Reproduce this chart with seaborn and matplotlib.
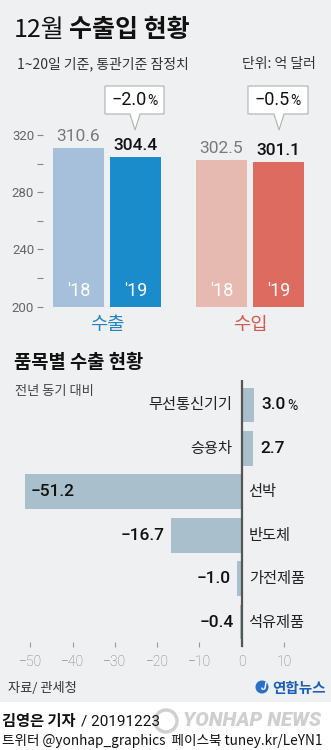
import matplotlib
matplotlib.use("Agg")
import matplotlib.pyplot as plt
from matplotlib.patches import Polygon, Rectangle, Circle
import seaborn as sns
import pandas as pd

# ---------------- data ----------------
trade_groups = ["수출", "수출", "수입", "수입"]
trade_years = ["'18", "'19", "'18", "'19"]
trade_values = [310.6, 304.4, 302.5, 301.1]
trade_changes = ["−2.0", "−0.5"]

items = ["무선통신기기", "승용차", "선박", "반도체", "가전제품", "석유제품"]
item_changes = [3.0, 2.7, -51.2, -16.7, -1.0, -0.4]

y_ticks = [200, 240, 280, 320]
y_minor = [220, 260, 300]
x_ticks = [-50, -40, -30, -20, -10, 0, 10]

# ---------------- style ----------------
sns.set_theme(style="white")
KR = ["Noto Sans CJK KR", "DejaVu Sans"]
NUM = ["Roboto", "Noto Sans CJK KR", "DejaVu Sans"]
plt.rcParams["font.family"] = KR
BG = "#eff0f2"

W, H = 331, 750
fig = plt.figure(figsize=(W / 100, H / 100), dpi=100, facecolor=BG)

def fx(px):
    return px / W

def fy(py):
    return 1 - py / H

# ---------------- top chart ----------------
ax1 = fig.add_axes([fx(43), fy(306.7), fx(320 - 43), (306.7 - 120) / H])
ax1.set_facecolor("none")
df = pd.DataFrame({"group": trade_groups, "year": trade_years, "value": trade_values})
sns.barplot(data=df, x="group", y="value", hue="year", order=["수출", "수입"],
            hue_order=["'18", "'19"], width=0.8, gap=0.105, ax=ax1, legend=False,
            linewidth=0, saturation=1)
colors = {("수출", "'18"): "#a6bfdb", ("수출", "'19"): "#1a8ccb",
          ("수입", "'18"): "#e6bab0", ("수입", "'19"): "#dd6b5f"}
groups_order = ["수출", "수입"]
for hue_lvl, cont in zip(["'18", "'19"], ax1.containers):
    for g, bar in zip(groups_order, cont):
        bar.set_facecolor(colors[(g, hue_lvl)])
        val = bar.get_height()
        xc = bar.get_x() + bar.get_width() / 2
        is19 = hue_lvl == "'19"
        ax1.annotate(f"{val:.1f}", (xc, val), xytext=(0, 3), textcoords="offset points",
                     ha="center", va="bottom", fontsize=12.5,
                     color="#111111" if is19 else "#7a7a7a",
                     fontweight="medium" if is19 else "normal", family=NUM)
        ax1.annotate(hue_lvl, (xc, 200), xytext=(0, 11), textcoords="offset points",
                     ha="center", va="center", fontsize=13, color="white", family=NUM)

group_colors = {"수출": "#2584bf", "수입": "#d35a4f"}
for i, g in enumerate(groups_order):
    ax1.annotate(g, (i, 200), xytext=(0, -13), textcoords="offset points",
                 ha="center", va="center", fontsize=13.5, color=group_colors[g],
                 fontweight="medium", annotation_clip=False)

ax1.set_ylim(200, 200 + (306.7 - 120) / 1.431)
ax1.set_xlim((43 - 107) / 143, (320 - 107) / 143)
ax1.set_yticks(y_ticks)
ax1.set_yticks(y_minor, minor=True)
ax1.set_yticklabels([str(t) for t in y_ticks], family=NUM, fontsize=9.5, color="#666666")
ax1.tick_params(axis="y", which="both", direction="out", length=4.3, width=0.8,
                color="#888888", pad=2, left=True)
ax1.set_xticks([])
ax1.set_xlabel("")
ax1.set_ylabel("")
for s in ax1.spines.values():
    s.set_visible(False)

# ---------------- bottom chart ----------------
ax2 = fig.add_axes([fx(10), fy(647), fx(320 - 10), (647 - 380) / H])
ax2.set_facecolor("none")
sns.barplot(x=item_changes, y=items, orient="h", color="#a9bfcc", saturation=1,
            width=0.8, ax=ax2, linewidth=0)
ax2.axvline(0, color="#555555", lw=1.6, zorder=5)
ax2.set_xlim((10 - 241.7) / 4.23, (320 - 241.7) / 4.23)
ax2.set_ylim(5.576, -0.576)
ax2.set_yticks([])
ax2.set_ylabel("")
ax2.set_xticks(x_ticks)
ax2.set_xticklabels([("−" + str(-t)) if t < 0 else str(t) for t in x_ticks],
                    family=NUM, fontsize=10, color="#777777", fontweight="light")
ax2.tick_params(axis="x", direction="in", length=3.6, width=0.8, color="#999999",
                pad=6, bottom=True)
for s in ax2.spines.values():
    s.set_visible(False)

for i, (name, v) in enumerate(zip(items, item_changes)):
    if v >= 0:
        ax2.annotate(name, (0, i), xytext=(-7, 0), textcoords="offset points",
                     ha="right", va="center", fontsize=11, color="#222222")
        ax2.annotate(f"{v:.1f}", (v, i), xytext=(5, 0), textcoords="offset points",
                     ha="left", va="center", fontsize=12.5, color="#111111",
                     fontweight="medium", family=NUM)
        if i == 0:
            ax2.annotate("%", (v, i), xytext=(23.5, -0.5), textcoords="offset points",
                         ha="left", va="center", fontsize=10, color="#111111", family=NUM)
    else:
        ax2.annotate(name, (0, i), xytext=(5, 0), textcoords="offset points",
                     ha="left", va="center", fontsize=11, color="#222222")
        lab = "−" + f"{-v:.1f}"
        if v < -30:
            ax2.annotate(lab, (v, i), xytext=(4, 0), textcoords="offset points",
                         ha="left", va="center", fontsize=12.5, color="#111111",
                         fontweight="medium", family=NUM)
        else:
            ax2.annotate(lab, (v, i), xytext=(-4.5, 0), textcoords="offset points",
                         ha="right", va="center", fontsize=12.5, color="#111111",
                         fontweight="medium", family=NUM)

# ---------------- overlay (decorations, pixel coords) ----------------
ov = fig.add_axes([0, 0, 1, 1])
ov.set_xlim(0, W)
ov.set_ylim(H, 0)
ov.axis("off")
ov.set_facecolor("none")

# footer strip
ov.add_patch(Rectangle((0, 702), W, 48, facecolor="white", edgecolor="none"))

# title
ov.text(14, 30, "12월", fontsize=18, fontweight="light", va="center", ha="left", color="#111111")
ov.text(69, 30, "수출입 현황", fontsize=18, fontweight="bold", va="center", ha="left", color="#111111")
ov.text(17, 64, "1~20일 기준, 통관기준 잠정치", fontsize=10, va="center", ha="left", color="#333333")
ov.text(316, 64, "단위: 억 달러", fontsize=10, va="center", ha="right", color="#333333")

# callouts
for (x0, x1, tip), ch in zip([(105, 164, 135), (248, 308, 279)], trade_changes):
    poly = Polygon([(x0, 86), (x1, 86), (x1, 114), (tip + 5, 114), (tip, 130),
                    (tip - 5, 114), (x0, 114)], closed=True, facecolor="white",
                   edgecolor="#b0b0b0", lw=0.8)
    ov.add_patch(poly)
    xm = (x0 + x1) / 2
    ov.text(xm + 12, 100, ch, fontsize=13, ha="right", va="center", color="#111111", family=NUM)
    ov.text(xm + 12.5, 101, "%", fontsize=10, ha="left", va="center", color="#111111", family=NUM)

# bottom chart titles
ov.text(14, 362, "품목별 수출 현황", fontsize=13.5, fontweight="bold", va="center", ha="left", color="#111111")
ov.text(15, 392, "전년 동기 대비", fontsize=9.5, va="center", ha="left", color="#444444")

# source & logo
ov.text(8, 689, "자료/ 관세청", fontsize=9.5, va="center", ha="left", color="#333333")
ov.add_patch(Circle((262, 687), 6.5, facecolor="#2a6fc9", edgecolor="none"))
ov.text(263, 687.5, "J", fontsize=7.5, fontweight="bold", style="italic", va="center",
        ha="center", color="white", family=NUM)
ov.text(272, 688, "연합뉴스", fontsize=10.5, fontweight="bold", va="center", ha="left", color="#1e5fb5")

# footer
ov.text(2, 721, "김영은 기자", fontsize=11, fontweight="bold", va="center", ha="left", color="#111111")
ov.text(81, 721, "/ 20191223", fontsize=11, va="center", ha="left", color="#111111", family=NUM)
ov.text(2, 741, "트위터 @yonhap_graphics  페이스북 tuney.kr/LeYN1", fontsize=9.8,
        va="center", ha="left", color="#111111")
ov.add_patch(Circle((166, 721), 11, facecolor="none", edgecolor="#d0d0d0", lw=2.5))
ov.text(183, 721, "YONHAP NEWS", fontsize=14.5, fontweight="heavy", style="italic",
        va="center", ha="left", color="#cfcfcf", family=NUM)

fig.savefig("out.png", dpi=100, facecolor=BG)
